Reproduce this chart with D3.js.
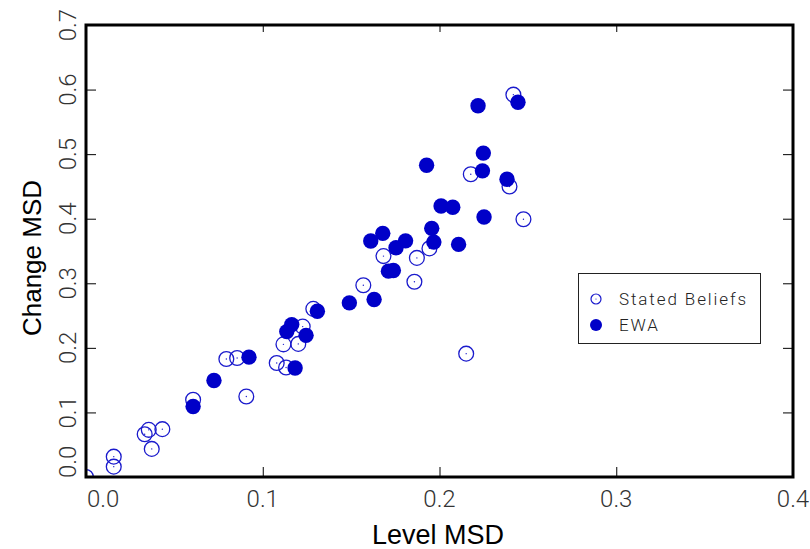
<!DOCTYPE html>
<html>
<head>
<meta charset="utf-8">
<script src="https://cdn.jsdelivr.net/npm/d3@7"></script>
<style>
  html, body { margin: 0; padding: 0; background: #fff; }
  svg { display: block; }
</style>
</head>
<body>
<svg id="chart" width="810" height="549"></svg>
<script>
// ---- data ----
const statedX = [0.000, 0.0157, 0.0157, 0.0372, 0.0332, 0.0355, 0.0432, 0.0606, 0.0907, 0.0794,
                 0.0855, 0.1079, 0.1132, 0.1117, 0.1201, 0.1226, 0.1286, 0.1569, 0.1683, 0.1858,
                 0.1872, 0.1943, 0.2151, 0.2177, 0.2396, 0.2418, 0.2475];
const statedY = [0.000, 0.016, 0.0315, 0.0435, 0.0663, 0.073, 0.0741, 0.1196, 0.1247, 0.1828,
                 0.1843, 0.1766, 0.1696, 0.2054, 0.2061, 0.2329, 0.2604, 0.2970, 0.3421, 0.3023,
                 0.3393, 0.3540, 0.1910, 0.4689, 0.4498, 0.5921, 0.3991];
const ewaX = [0.0606, 0.0724, 0.0922, 0.1183, 0.1136, 0.1164, 0.1245, 0.1309, 0.1490, 0.1630,
              0.1711, 0.1739, 0.1611, 0.1679, 0.1754, 0.1808, 0.1956, 0.1968, 0.2108, 0.1927,
              0.2009, 0.2075, 0.2252, 0.2248, 0.2243, 0.2382, 0.2218, 0.2444];
const ewaY = [0.1092, 0.1495, 0.1856, 0.1688, 0.2252, 0.2360, 0.2194, 0.2567, 0.2697, 0.2748,
              0.3188, 0.3199, 0.3654, 0.3773, 0.3551, 0.3657, 0.3851, 0.3638, 0.3602, 0.4829,
              0.4197, 0.4177, 0.4026, 0.5016, 0.4741, 0.4612, 0.5750, 0.5803];
const xTicks = [0.0, 0.1, 0.2, 0.3, 0.4];
const yTicks = [0.0, 0.1, 0.2, 0.3, 0.4, 0.5, 0.6, 0.7];
const seriesNames = ["Stated Beliefs", "EWA"];
const xTitle = "Level MSD";
const yTitle = "Change MSD";

// ---- layout ----
const L = 86, R = 793, T = 25, B = 477;
const blue = "#0000c8";
const svg = d3.select("#chart");
const x = d3.scaleLinear().domain([0, 0.4]).range([L, R]);
const y = d3.scaleLinear().domain([0, 0.7]).range([B, T]);
const fmt = d3.format(".1f");
const tickFont = "Roboto, 'Liberation Sans', sans-serif";

svg.append("defs").append("clipPath").attr("id", "plotclip")
  .append("rect").attr("x", L).attr("y", T).attr("width", R - L).attr("height", B - T);

// ticks (inward) via axes
const gBottom = svg.append("g").attr("transform", `translate(0,${B})`)
  .call(d3.axisTop(x).tickValues(xTicks).tickSize(10).tickFormat(""));
const gTop = svg.append("g").attr("transform", `translate(0,${T})`)
  .call(d3.axisBottom(x).tickValues(xTicks).tickSize(7).tickFormat(""));
const gLeft = svg.append("g").attr("transform", `translate(${L},0)`)
  .call(d3.axisRight(y).tickValues(yTicks).tickSize(10).tickFormat(""));
const gRight = svg.append("g").attr("transform", `translate(${R},0)`)
  .call(d3.axisLeft(y).tickValues(yTicks).tickSize(10).tickFormat(""));
[gBottom, gTop, gLeft, gRight].forEach(g => {
  g.select(".domain").remove();
  g.selectAll("line").attr("stroke", "#000").attr("stroke-width", 1);
});

// tick labels (first label shifted inward like the reference)
svg.append("g").selectAll("text").data(xTicks).join("text")
  .attr("x", (d, i) => i === 0 ? x(d) + 1 : x(d)).attr("y", 507)
  .attr("text-anchor", (d, i) => i === 0 ? "start" : "middle")
  .attr("font-family", tickFont).attr("font-weight", 300)
  .attr("font-size", 24).attr("fill", "#333")
  .text(d => fmt(d));
svg.append("g").selectAll("text").data(yTicks).join("text")
  .attr("transform", (d, i) => `translate(76,${i === 0 ? y(d) + 1 : y(d)}) rotate(-90)`)
  .attr("text-anchor", (d, i) => i === 0 ? "start" : "middle")
  .attr("font-family", tickFont).attr("font-weight", 300)
  .attr("font-size", 24).attr("fill", "#333")
  .text(d => fmt(d));

// axis titles
svg.append("text").attr("x", 438).attr("y", 544).attr("text-anchor", "middle")
  .attr("font-family", "'Liberation Sans', Arial, sans-serif").attr("font-size", 27)
  .attr("fill", "#000").text(xTitle);
svg.append("text").attr("transform", `translate(41,${258}) rotate(-90)`)
  .attr("text-anchor", "middle")
  .attr("font-family", "'Liberation Sans', Arial, sans-serif").attr("font-size", 26)
  .attr("fill", "#000").text(yTitle);

// points
const plot = svg.append("g").attr("clip-path", "url(#plotclip)");
const stated = statedX.map((v, i) => ({ x: v, y: statedY[i] }));
const ewa = ewaX.map((v, i) => ({ x: v, y: ewaY[i] }));

const sg = plot.append("g").selectAll("g").data(stated).join("g")
  .attr("transform", d => `translate(${x(d.x)},${y(d.y)})`);
sg.append("circle").attr("r", 7.4).attr("fill", "none").attr("stroke", "#1a1acc").attr("stroke-width", 1.3);
sg.append("circle").attr("r", 0.7).attr("fill", "#1a1acc");

plot.append("g").selectAll("circle").data(ewa).join("circle")
  .attr("cx", d => x(d.x)).attr("cy", d => y(d.y)).attr("r", 7.7).attr("fill", blue);

// frame
svg.append("rect").attr("x", L).attr("y", T).attr("width", R - L).attr("height", B - T)
  .attr("fill", "none").attr("stroke", "#000").attr("stroke-width", 3);

// legend
const lg = svg.append("g");
lg.append("rect").attr("x", 578.5).attr("y", 273.5).attr("width", 182).attr("height", 70)
  .attr("fill", "#fff").attr("stroke", "#222").attr("stroke-width", 1);
lg.append("circle").attr("cx", 596).attr("cy", 299).attr("r", 5).attr("fill", "none")
  .attr("stroke", "#1a1acc").attr("stroke-width", 1.2);
lg.append("circle").attr("cx", 596).attr("cy", 299).attr("r", 0.6).attr("fill", "#1a1acc");
lg.append("circle").attr("cx", 596).attr("cy", 325).attr("r", 6).attr("fill", blue);
lg.selectAll("text.leg").data(seriesNames).join("text").attr("class", "leg")
  .attr("x", 619).attr("y", (d, i) => 305 + i * 26)
  .attr("font-family", tickFont).attr("font-weight", 300)
  .attr("font-size", 17).attr("letter-spacing", 1.9).attr("fill", "#222")
  .text(d => d);
</script>
</body>
</html>
